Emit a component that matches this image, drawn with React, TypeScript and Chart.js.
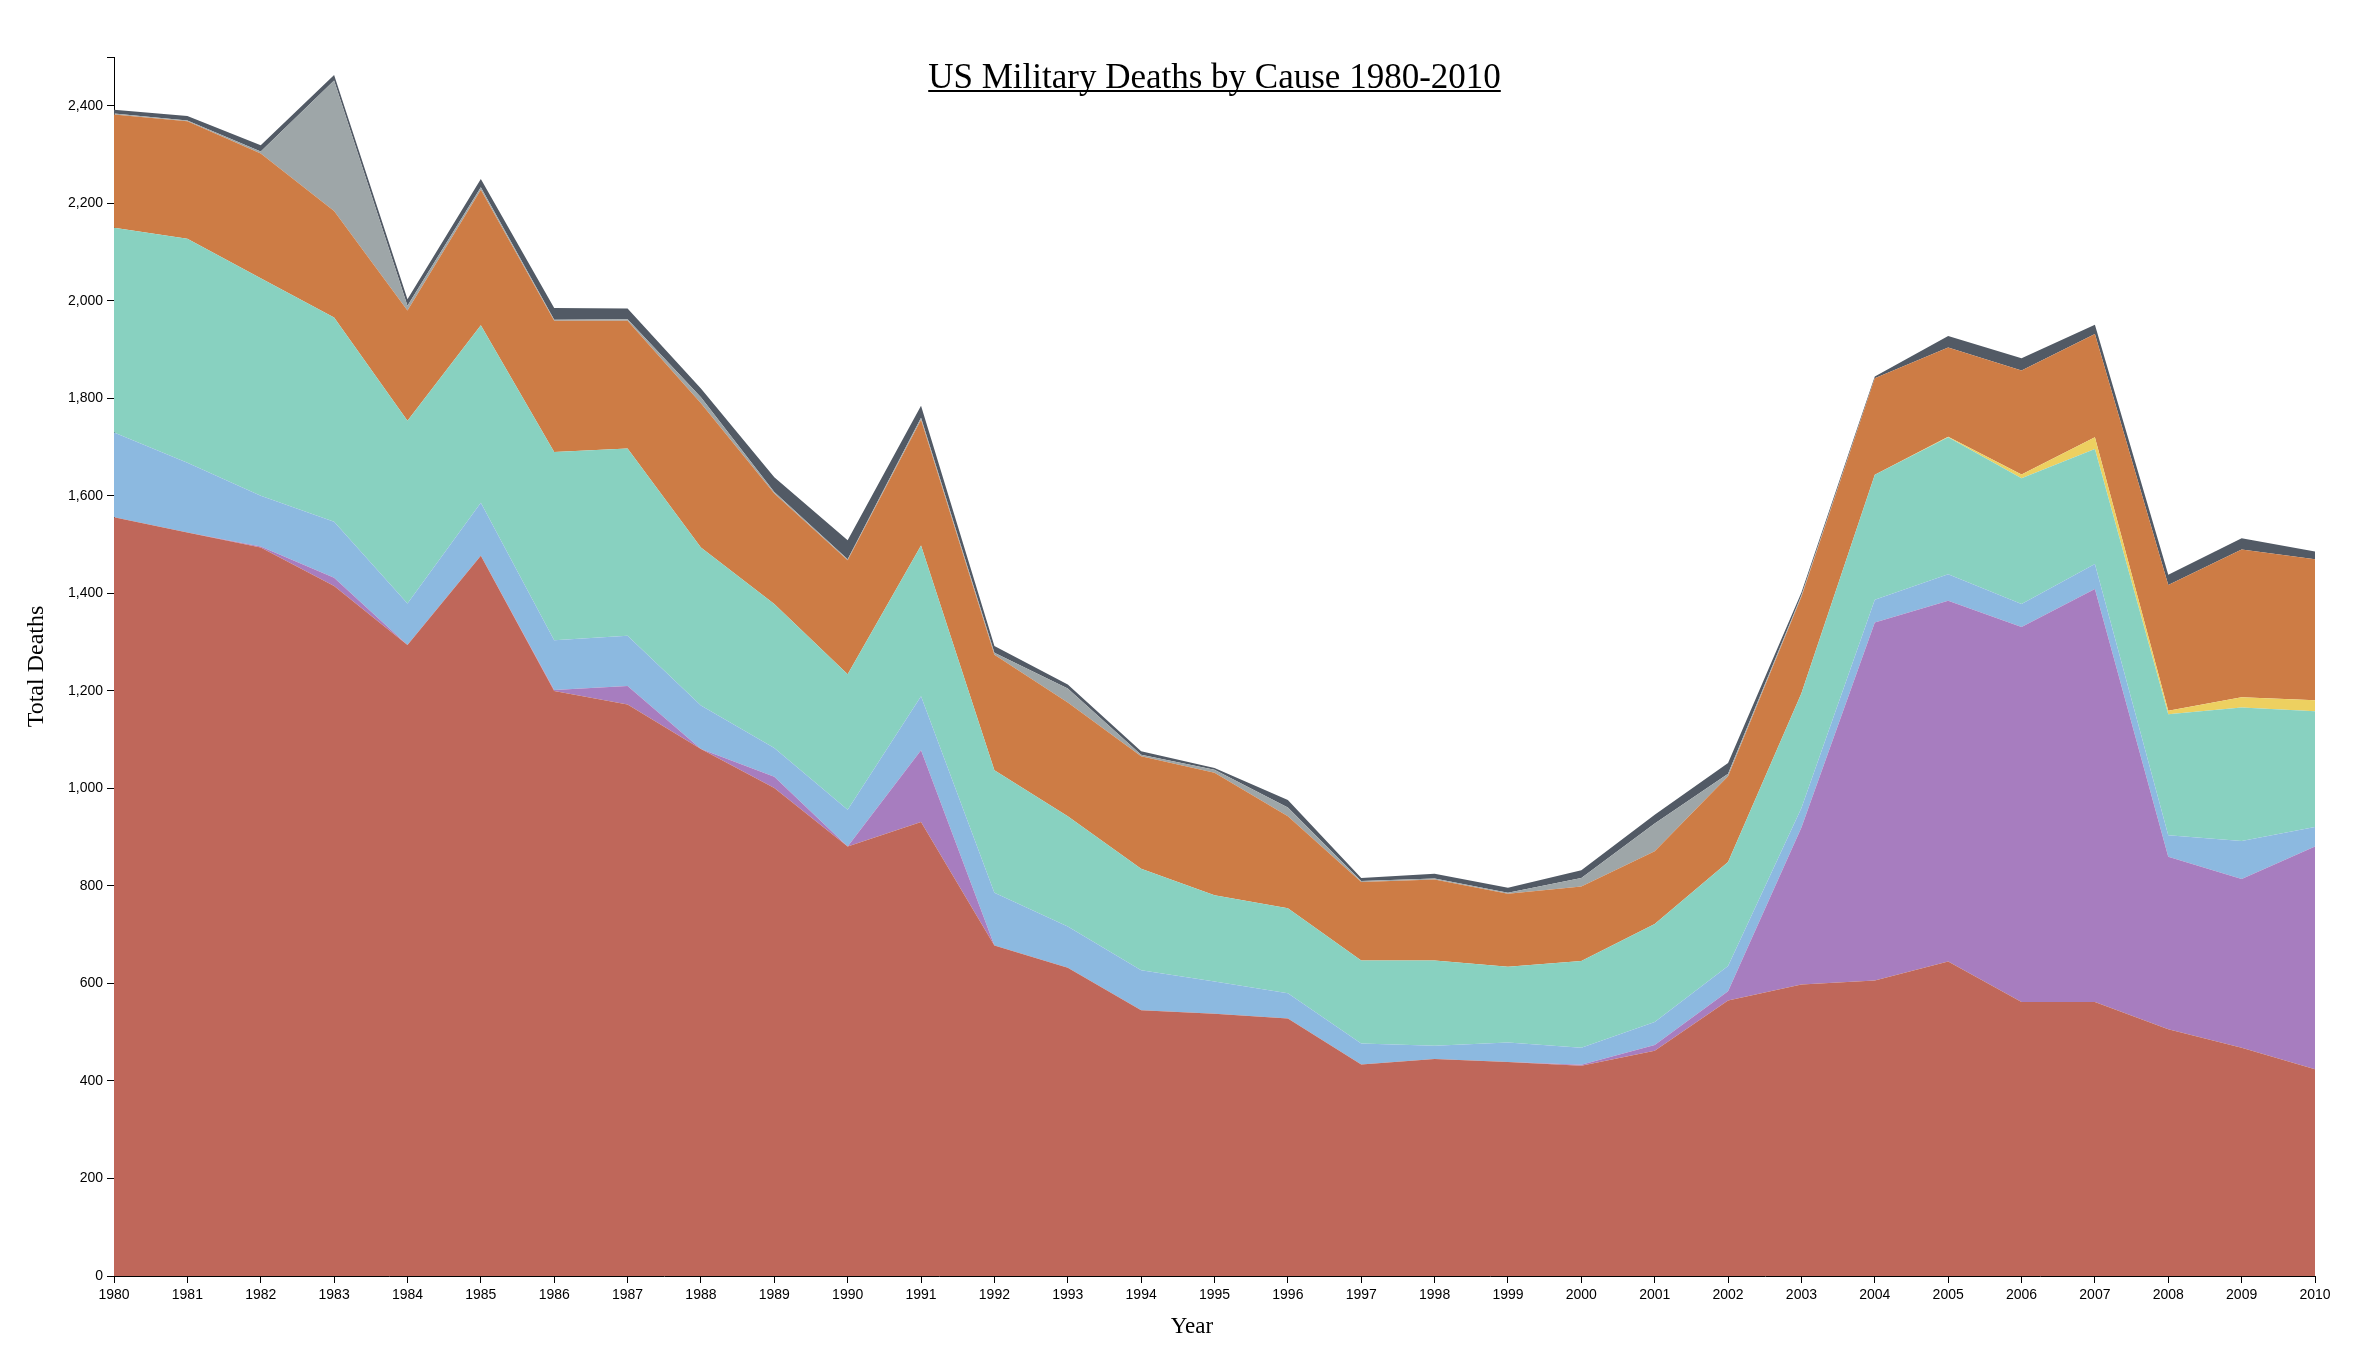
import React, { useEffect, useRef } from 'react';
import { Chart, registerables } from 'chart.js';

Chart.register(...registerables);

const years = ['1980','1981','1982','1983','1984','1985','1986','1987','1988','1989','1990','1991','1992','1993','1994','1995','1996','1997','1998','1999','2000','2001','2002','2003','2004','2005','2006','2007','2008','2009','2010'];

const accident = [1556,1525,1494,1415,1294,1477,1200,1172,1081,1001,881,931,678,632,545,538,528,434,445,439,431,462,565,598,606,645,562,562,506,468,424];
const hostileAction = [0,0,2,17,0,0,2,38,0,23,0,147,0,0,0,0,0,0,0,0,2,12,19,322,734,740,769,847,354,346,457];
const homicide = [174,143,104,115,85,109,102,103,89,59,75,111,108,85,82,66,52,43,27,40,35,47,52,40,47,54,47,51,44,78,40];
const illness = [420,459,446,419,375,364,386,384,324,295,278,309,251,226,208,177,174,170,175,155,178,201,213,235,256,281,258,236,248,274,237];
const pending = [0,0,0,0,0,0,0,0,0,0,0,0,0,0,0,0,0,0,0,0,0,0,0,0,0,1,8,24,7,21,23];
const selfInflicted = [232,241,256,218,226,278,269,262,296,227,234,258,237,233,231,251,189,161,166,150,153,149,176,198,198,183,213,212,258,303,289];
const terrorist = [2,2,4,268,10,5,2,3,12,3,2,4,4,29,3,6,18,2,2,2,17,57,5,3,0,0,0,0,0,0,0];
const undetermined = [8,9,13,11,13,17,24,22,18,30,39,25,14,8,7,4,15,6,10,10,16,18,22,6,4,24,25,19,21,23,16];

const yTickValues = [0,200,400,600,800,1000,1200,1400,1600,1800,2000,2200,2400,2500];

const seriesNames = ['Accident','Hostile Action','Homicide','Illness','Pending','Self-Inflicted','Terrorist Attack','Undetermined'];
const seriesData = [accident, hostileAction, homicide, illness, pending, selfInflicted, terrorist, undetermined];
const seriesColors = ['#bf675a','#a77dbf','#8cb9e0','#88d1c0','#edd060','#cd7c45','#9ea6a8','#525a65'];

const TITLE = 'US Military Deaths by Cause 1980-2010';

const textPlugin = {
  id: 'textPlugin',
  afterDraw(chart: any) {
    const ctx = chart.ctx;
    const area = chart.chartArea;
    ctx.save();
    ctx.fillStyle = '#000';
    ctx.strokeStyle = '#000';
    // title
    ctx.font = '35px "Liberation Serif", "Times New Roman", serif';
    ctx.textAlign = 'center';
    ctx.textBaseline = 'alphabetic';
    const tx = (area.left + area.right) / 2;
    const ty = 80;
    ctx.fillText(TITLE, tx, ty);
    const w = ctx.measureText(TITLE).width;
    ctx.lineWidth = 2;
    ctx.beginPath();
    ctx.moveTo(tx - w / 2, ty + 3);
    ctx.lineTo(tx + w / 2, ty + 3);
    ctx.stroke();
    // x label
    ctx.font = '23px "Liberation Serif", "Times New Roman", serif';
    ctx.textBaseline = 'middle';
    ctx.fillText('Year', 1184, 1319);
    // y label
    ctx.translate(29, (area.top + area.bottom) / 2);
    ctx.rotate(-Math.PI / 2);
    ctx.font = '24px "Liberation Serif", "Times New Roman", serif';
    ctx.fillText('Total Deaths', 0, 0);
    ctx.restore();
  },
};

export default function App() {
  const ref = useRef<HTMLCanvasElement | null>(null);

  useEffect(() => {
    if (!ref.current) return;
    const datasets = seriesData.map((d, i) => ({
      label: seriesNames[i],
      data: d,
      backgroundColor: seriesColors[i],
      borderColor: seriesColors[i],
      borderWidth: 0,
      pointRadius: 0,
      tension: 0,
      fill: i === 0 ? 'origin' : '-1',
    }));
    const chart = new Chart(ref.current, {
      type: 'line',
      data: { labels: years, datasets },
      options: {
        responsive: false,
        devicePixelRatio: 1,
        animation: false,
        layout: { padding: { left: 46, right: 37, top: 49, bottom: 36 } },
        plugins: {
          legend: { display: false },
          tooltip: { enabled: false },
          title: { display: false },
        },
        elements: { line: { borderWidth: 0 } },
        scales: {
          x: {
            type: 'category',
            offset: false,
            afterFit: (s: any) => { s.height = 50; },
            grid: { display: true, drawOnChartArea: false, drawTicks: true, tickLength: 7, color: '#000' },
            border: { display: true, color: '#000', width: 1 },
            ticks: {
              autoSkip: false,
              maxRotation: 0,
              minRotation: 0,
              padding: 4,
              color: '#000',
              font: { family: '"Liberation Sans", Arial, sans-serif', size: 14 },
            },
          },
          y: {
            type: 'linear',
            stacked: true,
            min: 0,
            max: 2500,
            afterFit: (s: any) => { s.width = 60; },
            afterBuildTicks: (s: any) => { s.ticks = yTickValues.map((v) => ({ value: v })); },
            grid: { display: true, drawOnChartArea: false, drawTicks: true, tickLength: 7, color: '#000' },
            border: { display: true, color: '#000', width: 1 },
            ticks: {
              padding: 4,
              color: '#000',
              font: { family: '"Liberation Sans", Arial, sans-serif', size: 14 },
              callback: (v: any) => (Number(v) === 2500 ? '' : Number(v).toLocaleString('en-US')),
            },
          },
        },
      },
      plugins: [textPlugin],
    });
    return () => chart.destroy();
  }, []);

  return (
    <canvas
      ref={ref}
      width={2344}
      height={1354}
      style={{ display: 'block', width: '2344px', height: '1354px' }}
    />
  );
}
